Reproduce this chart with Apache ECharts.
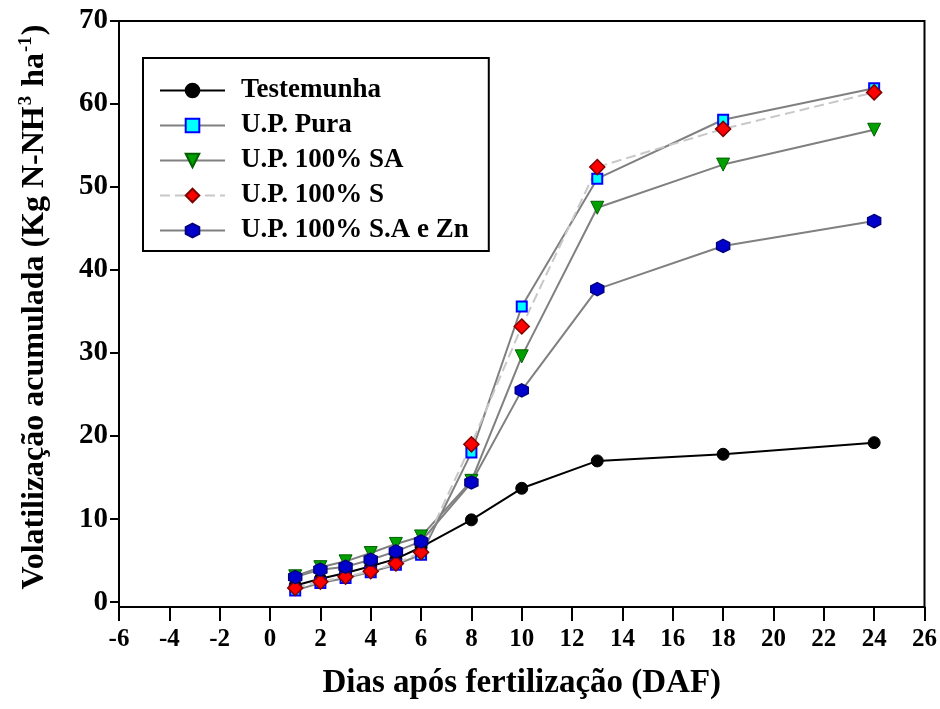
<!DOCTYPE html>
<html>
<head>
<meta charset="utf-8">
<script src="https://cdn.jsdelivr.net/npm/echarts@6/dist/echarts.min.js"></script>
<style>
html,body{margin:0;padding:0;background:#fff;}
#chart{width:940px;height:709px;}
</style>
</head>
<body>
<div id="chart"></div>
<script>
const days = [1, 2, 3, 4, 5, 6, 8, 10, 13, 18, 24];
const testemunha = [2.0, 2.8, 3.5, 4.3, 5.2, 6.6, 9.9, 13.7, 17.0, 17.8, 19.2];
const upPura = [1.4, 2.3, 2.9, 3.6, 4.5, 5.7, 18.0, 35.6, 51.0, 58.1, 61.9];
const up100SA = [3.1, 4.2, 4.9, 5.9, 7.0, 7.9, 14.6, 29.6, 47.5, 52.7, 56.9];
const up100S = [1.7, 2.45, 3.05, 3.7, 4.65, 6.0, 19.0, 33.2, 52.4, 57.0, 61.4];
const up100SAZn = [3.0, 3.9, 4.25, 5.1, 6.1, 7.3, 14.4, 25.5, 37.7, 42.9, 45.9];
const seriesNames = ['Testemunha', 'U.P. Pura', 'U.P. 100% SA', 'U.P. 100% S', 'U.P. 100% S.A e Zn'];
const yTickValues = [0, 10, 20, 30, 40, 50, 60, 70];

const FONT = 'Liberation Serif';
const hexPath = 'path://M0,-10 L8.66,-5 L8.66,5 L0,10 L-8.66,5 L-8.66,-5 Z';

function pairs(ys) { return days.map((d, i) => [d, ys[i]]); }

const chart = echarts.init(document.getElementById('chart'));
chart.setOption({
  animation: false,
  backgroundColor: '#fff',
  grid: {
    left: 119, right: 15, top: 21, bottom: 102,
    show: true, borderColor: '#000', borderWidth: 2, backgroundColor: 'transparent'
  },
  legend: {
    orient: 'vertical',
    left: 143, top: 58,
    backgroundColor: '#fff',
    borderColor: '#000', borderWidth: 2,
    padding: [19, 20, 7, 16],
    itemWidth: 65, itemHeight: 17, itemGap: 8,
    textStyle: { fontFamily: FONT, fontWeight: 'bold', fontSize: 27, color: '#000', lineHeight: 26.5, padding: [0, 0, 0, 11] },
    data: seriesNames
  },
  xAxis: {
    type: 'value', min: -6, max: 26, interval: 2,
    axisLine: { show: true, onZero: false, lineStyle: { color: '#000', width: 2 } },
    axisTick: { show: true, length: 14, lineStyle: { color: '#000', width: 2 } },
    axisLabel: { fontFamily: FONT, fontWeight: 'bold', fontSize: 25, color: '#000', margin: 20 },
    splitLine: { show: false },
    name: 'Dias após fertilização (DAF)',
    nameLocation: 'middle', nameGap: 60,
    nameTextStyle: { fontFamily: FONT, fontWeight: 'bold', fontSize: 33, color: '#000' }
  },
  yAxis: {
    type: 'value', min: -0.6, max: 70,
    axisLine: { show: true, onZero: false, lineStyle: { color: '#000', width: 2 } },
    axisTick: { show: true, length: 9, customValues: yTickValues, lineStyle: { color: '#000', width: 2 } },
    axisLabel: { fontFamily: FONT, fontWeight: 'bold', fontSize: 29, color: '#000', margin: 11, customValues: yTickValues },
    splitLine: { show: false },
    name: 'Volatilização acumulada (Kg N-NH{sup|3} ha{sup|-1})',
    nameLocation: 'middle', nameGap: 66,
    nameTextStyle: {
      fontFamily: FONT, fontWeight: 'bold', fontSize: 32, color: '#000', lineHeight: 36, padding: [0, 0, 0, 14],
      rich: { sup: { fontFamily: FONT, fontWeight: 'bold', fontSize: 19, color: '#000', verticalAlign: 'top', lineHeight: 20, padding: [0, 1, 14, 1] } }
    }
  },
  series: [
    {
      name: seriesNames[0], type: 'line', data: pairs(testemunha),
      symbol: 'circle', symbolSize: 12,
      lineStyle: { color: '#000', width: 2 },
      itemStyle: { color: '#000', borderColor: '#000', borderWidth: 1 }
    },
    {
      name: seriesNames[1], type: 'line', data: pairs(upPura),
      symbol: 'rect', symbolSize: 10,
      lineStyle: { color: '#808080', width: 2 },
      itemStyle: { color: '#00ffff', borderColor: '#0000ff', borderWidth: 2 }
    },
    {
      name: seriesNames[2], type: 'line', data: pairs(up100SA),
      symbol: 'triangle', symbolRotate: 180, symbolSize: 13,
      lineStyle: { color: '#808080', width: 2 },
      itemStyle: { color: '#00a000', borderColor: '#006000', borderWidth: 1 }
    },
    {
      name: seriesNames[3], type: 'line', data: pairs(up100S),
      symbol: 'diamond', symbolSize: 15,
      lineStyle: { color: '#c8c8c8', width: 2, type: [10, 5] },
      itemStyle: { color: '#ff0000', borderColor: '#800000', borderWidth: 1.5 }
    },
    {
      name: seriesNames[4], type: 'line', data: pairs(up100SAZn),
      symbol: hexPath, symbolSize: 13,
      lineStyle: { color: '#808080', width: 2 },
      itemStyle: { color: '#0000cc', borderColor: '#000080', borderWidth: 1.5 }
    }
  ]
});
</script>
</body>
</html>
